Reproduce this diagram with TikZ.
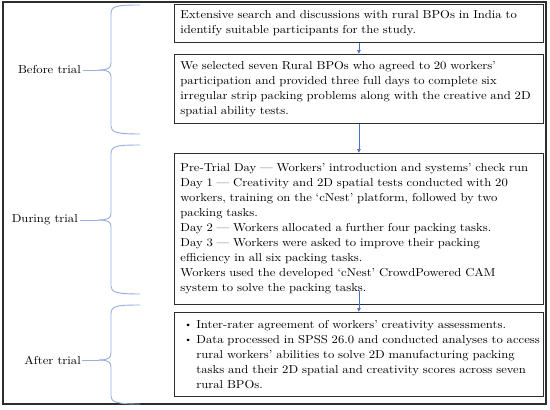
\documentclass[tikz,border=0pt]{standalone}
\usepackage{fontspec}
\setmainfont{lmroman10-regular.otf}[FakeStretch=1.1]
\usetikzlibrary{arrows.meta}
\definecolor{brc}{RGB}{150,175,220}
\definecolor{arc}{RGB}{68,114,196}
\definecolor{frm}{RGB}{45,45,45}
\newcommand{\mytxt}{\fontsize{11.5}{15}\selectfont}
\newcommand{\bul}{\makebox[16pt][l]{\hspace{4pt}\raisebox{0.5pt}{\small\textbullet}}}
\tikzset{
  box/.style={draw=frm, line width=0.8pt, anchor=north west, align=left,
    text width=357pt, inner xsep=6pt, inner ysep=0pt, font=\mytxt},
  lbl/.style={anchor=east, inner sep=0pt, font=\mytxt},
  brace/.style={draw=brc, line width=0.9pt},
  flow/.style={draw=arc, line width=0.6pt, -{Latex[length=4pt,width=4pt]}}
}
\begin{document}
\begin{tikzpicture}[x=1pt,y=-1pt]
\useasboundingbox (0,0) rectangle (550,410);
\fill[white] (0,0) rectangle (550,410);
\draw[frm, line width=1.3pt] (3,2) rectangle (546,404);

\node[box, minimum height=38pt] (b1) at (174,4)
 {Extensive search and discussions with rural BPOs in India to\\
  identify suitable participants for the study.};
\node[box, minimum height=69pt] (b2) at (174,54)
 {We selected seven Rural BPOs who agreed to 20 workers'\\
  participation and provided three full days to complete six\\
  irregular strip packing problems along with the creative and 2D\\
  spatial ability tests.};
\node[box, minimum height=151pt] (b3) at (174,153)
 {Pre-Trial Day --- Workers' introduction and systems' check run\\
  Day 1 --- Creativity and 2D spatial tests conducted with 20\\
  workers, training on the `cNest' platform, followed by two\\
  packing tasks.\\
  Day 2 --- Workers allocated a further four packing tasks.\\
  Day 3 --- Workers were asked to improve their packing\\
  efficiency in all six packing tasks.\\
  Workers used the developed `cNest' CrowdPowered CAM\\
  system to solve the packing tasks.};
\node[box, minimum height=84pt] (b4) at (174,312)
 {\mbox{\bul Inter-rater agreement of workers' creativity assessments.}\\
  \mbox{\bul Data processed in SPSS 26.0 and conducted analyses to access}\\
  \mbox{\hspace*{16pt}rural workers' abilities to solve 2D manufacturing packing}\\
  \mbox{\hspace*{16pt}tasks and their 2D spatial and creativity scores across seven}\\
  \mbox{\hspace*{16pt}rural BPOs.}};

\draw[flow] (b1) -- (b2);
\draw[flow] (b2) -- (b3);
\draw[flow] ([yshift=14pt]b3.south) -- (b4.north);

% braces
\draw[brace] (140,5) .. controls (116,5) and (111,6) .. (111,14) -- (111,63)
  .. controls (111,68) and (108,70) .. (99,70) coordinate (t1);
\draw[brace] (t1) .. controls (108,70) and (111,72) .. (111,77) -- (111,126)
  .. controls (111,132) and (116,134) .. (140,134);
\draw[brace] (140,145) .. controls (116,145) and (111,146) .. (111,154) -- (111,213)
  .. controls (111,218) and (108,220) .. (99,220) coordinate (t2);
\draw[brace] (t2) .. controls (108,220) and (111,222) .. (111,227) -- (111,286)
  .. controls (111,292) and (116,294) .. (140,294);
\draw[brace] (140,305) .. controls (116,305) and (111,306) .. (111,314) -- (111,353)
  .. controls (111,358) and (108,360) .. (99,360) coordinate (t3);
\draw[brace] (t3) .. controls (108,360) and (111,362) .. (111,367) -- (111,396)
  .. controls (111,402) and (116,404) .. (140,404);

\node[lbl] (l1) at (81,70) {Before trial};
\node[lbl] (l2) at (78,220) {During trial};
\node[lbl] (l3) at (81,360) {After trial};
\draw[brace] ([xshift=2pt]l1.east) -- (t1);
\draw[brace] ([xshift=2pt]l2.east) -- (t2);
\draw[brace] ([xshift=1pt]l3.east) -- (t3);
\end{tikzpicture}
\end{document}
